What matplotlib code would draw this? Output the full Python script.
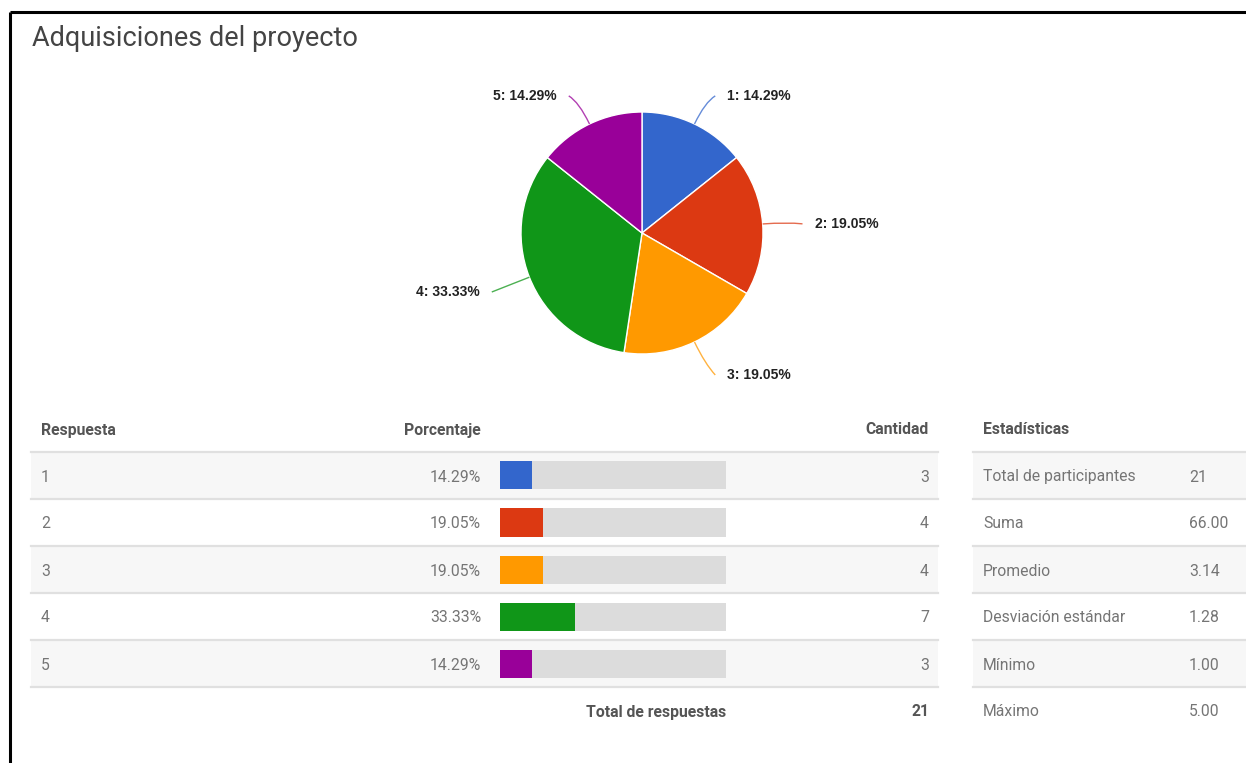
import matplotlib
matplotlib.use("Agg")
import matplotlib.pyplot as plt
from matplotlib.patches import PathPatch
from matplotlib.path import Path
import numpy as np

# survey results
respuestas = ["1", "2", "3", "4", "5"]
cantidades = [3, 4, 4, 7, 3]
porcentajes = [14.29, 19.05, 19.05, 33.33, 14.29]
total_respuestas = 21
colores = ["#3366cc", "#dc3912", "#ff9900", "#109618", "#990099"]

est_nombres = ["Total de participantes", "Suma", "Promedio",
               "Desviación estándar", "Mínimo", "Máximo"]
est_valores = ["21", "66.00", "3.14", "1.28", "1.00", "5.00"]

W, H = 1246, 763
fig = plt.figure(figsize=(W / 100, H / 100), dpi=100)
fig.patch.set_facecolor("white")

# base layer in pixel units (y grows downward)
base = fig.add_axes([0, 0, 1, 1])
base.set_xlim(0, W)
base.set_ylim(H, 0)
base.axis("off")

# window frame
base.plot([10, W], [11.5, 11.5], color="black", lw=2.2, solid_capstyle="butt")
base.plot([10, 10], [11.5, H], color="black", lw=2.2, solid_capstyle="butt")

FONT = ["Roboto", "DejaVu Sans"]
FS = 11.3
base.text(32, 38, "Adquisiciones del proyecto", fontsize=19.5, color="#444444",
          family=FONT, va="center", ha="left")

# ---- tables ----
row0, row_h = 452, 47
hdr_col = "#555555"
txt_col = "#757575"
sep_col = "#e0e0e0"

def row_center(i):
    return row0 + row_h * i + row_h / 2 + 1.5

# response table
lx0, lx1 = 31, 938
base.text(41, 430, "Respuesta", fontsize=FS, fontweight="bold", color=hdr_col,
          family=FONT, va="center")
base.text(481, 430, "Porcentaje", fontsize=FS, fontweight="bold", color=hdr_col,
          family=FONT, va="center", ha="right")
base.text(929, 430, "Cantidad", fontsize=FS, fontweight="bold", color=hdr_col,
          family=FONT, va="center", ha="right")
for i, (r, p, c) in enumerate(zip(respuestas, porcentajes, cantidades)):
    top = row0 + row_h * i
    if i % 2 == 0:
        base.fill_between([lx0, lx1], top, top + row_h, color="#f7f7f7", lw=0)
    base.plot([lx0, lx1], [top, top], color=sep_col, lw=1.6)
    yc = row_center(i)
    base.text(41, yc, r, fontsize=FS, color=txt_col, family=FONT, va="center")
    base.text(481, yc, f"{p:.2f}%", fontsize=FS, color=txt_col, family=FONT,
              va="center", ha="right")
    base.text(929, yc, str(c), fontsize=FS, color=txt_col, family=FONT,
              va="center", ha="right")
bottom = row0 + row_h * len(respuestas)
base.plot([lx0, lx1], [bottom, bottom], color=sep_col, lw=1.6)
base.text(726, row_center(5), "Total de respuestas", fontsize=FS, fontweight="bold",
          color=hdr_col, family=FONT, va="center", ha="right")
base.text(929, row_center(5), str(total_respuestas), fontsize=FS, fontweight="bold",
          color=hdr_col, family=FONT, va="center", ha="right")

# statistics table
rx0, rx1 = 973, W
base.text(983, 430, "Estadísticas", fontsize=FS, fontweight="bold", color=hdr_col,
          family=FONT, va="center")
for i, (n, v) in enumerate(zip(est_nombres, est_valores)):
    top = row0 + row_h * i
    if i % 2 == 0:
        base.fill_between([rx0, rx1], top, top + row_h, color="#f7f7f7", lw=0)
    base.plot([rx0, rx1], [top, top], color=sep_col, lw=1.6)
    yc = row_center(i)
    base.text(983, yc, n, fontsize=FS, color=txt_col, family=FONT, va="center")
    base.text(1189, yc, v, fontsize=FS, color=txt_col, family=FONT, va="center")

# percentage bars
bx0, bx1 = 500, 726
bar_ax = fig.add_axes([bx0 / W, 1 - bottom / H, (bx1 - bx0) / W, (bottom - row0) / H])
bar_ax.set_xlim(0, 100)
bar_ax.set_ylim(len(respuestas) - 0.5, -0.5)
bar_ax.axis("off")
ypos = np.arange(len(respuestas))
bar_ax.barh(ypos, [100] * len(respuestas), height=28 / row_h, color="#dcdcdc")
bar_ax.barh(ypos, porcentajes, height=28 / row_h, color=colores)

# ---- pie chart ----
cx, cy, R = 642, 233, 121
half = 260  # half size of the pie axes in pixels
lim = half / R
pie_ax = fig.add_axes([(cx - half) / W, 1 - (cy + half) / H, 2 * half / W, 2 * half / H])
pie_ax.set_aspect("equal")
pie_ax.axis("off")
wedges, _ = pie_ax.pie(cantidades, colors=colores, startangle=90, counterclock=False,
                       radius=1, wedgeprops=dict(edgecolor="white", linewidth=1))
pie_ax.set_xlim(-lim, lim)
pie_ax.set_ylim(-lim, lim)

for w, r, p, col in zip(wedges, respuestas, porcentajes, colores):
    ang = np.deg2rad((w.theta1 + w.theta2) / 2)
    ux, uy = np.cos(ang), np.sin(ang)
    side = 1 if ux >= 0 else -1
    p0 = (ux, uy)
    p1 = (1.2 * ux, 1.2 * uy)
    p2 = (1.28 * ux + 0.05 * side, 1.28 * uy - 0.02)
    path = Path([p0, p1, p2], [Path.MOVETO, Path.CURVE3, Path.CURVE3])
    pie_ax.add_patch(PathPatch(path, fc="none", ec=col, lw=1, alpha=0.75))
    pie_ax.text(p2[0] + 0.1 * side, p2[1], f"{r}: {p:.2f}%", fontsize=10, fontweight="bold",
                family=["Liberation Sans", "DejaVu Sans"], color="#222222",
                va="center", ha="left" if side > 0 else "right")

fig.savefig("out.png", dpi=100, facecolor="white")
